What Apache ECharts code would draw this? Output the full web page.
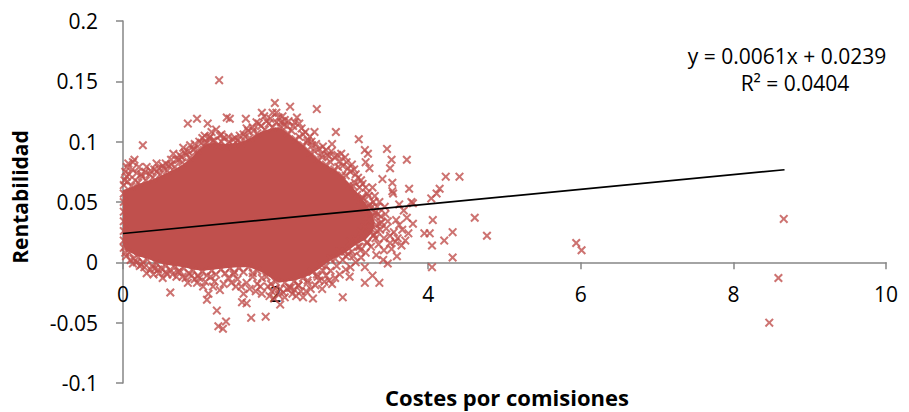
<!DOCTYPE html>
<html>
<head>
<meta charset="utf-8">
<script src="https://cdn.jsdelivr.net/npm/echarts@6/dist/echarts.min.js"></script>
<style>
  html, body { margin: 0; padding: 0; background: #fff; }
  #chart { width: 909px; height: 412px; }
</style>
</head>
<body>
<div id="chart"></div>
<script>
// Axis ranges and ticks
const xTicks = [0, 2, 4, 6, 8, 10];
const yTicks = [-0.1, -0.05, 0, 0.05, 0.1, 0.15, 0.2];

// Text
const xTitle = 'Costes por comisiones';
const yTitle = 'Rentabilidad';
const equationText = 'y = 0.0061x + 0.0239';
const r2Text = 'R² = 0.0404';

// Linear trend (from the stated equation), spanning the data's x range
const trendSlope = 0.0061;
const trendIntercept = 0.0239;
const trendXRange = [0, 8.67];

// Outline of the heavily overplotted region where marks merge into a solid mass
const denseOutline = [
  [0.00,0.014],[0.00,0.060],[0.10,0.062],[0.20,0.065],[0.30,0.067],[0.40,0.069],[0.50,0.072],
  [0.60,0.075],[0.70,0.078],[0.80,0.082],[0.90,0.087],[1.00,0.094],[1.10,0.098],[1.20,0.099],
  [1.30,0.098],[1.40,0.098],[1.50,0.099],[1.60,0.101],[1.70,0.104],[1.80,0.108],[1.90,0.110],
  [2.00,0.112],[2.08,0.111],[2.16,0.107],[2.26,0.102],[2.36,0.097],[2.46,0.091],[2.56,0.085],
  [2.66,0.081],[2.77,0.077],[2.87,0.072],[2.97,0.065],[3.08,0.057],[3.18,0.049],[3.26,0.041],
  [3.30,0.033],[3.27,0.025],[3.18,0.019],[3.06,0.015],[2.96,0.010],[2.86,0.006],[2.76,0.003],
  [2.66,-0.001],[2.56,-0.006],[2.46,-0.010],[2.36,-0.013],[2.24,-0.015],[2.12,-0.016],
  [2.04,-0.017],[1.94,-0.013],[1.84,-0.009],[1.74,-0.006],[1.64,-0.004],[1.50,-0.004],
  [1.34,-0.005],[1.20,-0.006],[1.04,-0.007],[0.92,-0.006],[0.80,-0.004],[0.68,-0.003],
  [0.56,-0.002],[0.44,0.000],[0.32,0.003],[0.20,0.005],[0.10,0.008],[0.03,0.011]
];

// Individual observations (costes, rentabilidad)
const points = [
  // upper edge, left part
  [0.01,0.064],[0.06,0.067],[0.11,0.063],[0.16,0.068],[0.20,0.066],[0.25,0.071],[0.30,0.068],
  [0.35,0.073],[0.39,0.070],[0.44,0.075],[0.49,0.073],[0.53,0.078],[0.58,0.076],[0.63,0.081],
  [0.68,0.079],[0.73,0.085],[0.78,0.083],[0.83,0.089],[0.88,0.087],[0.93,0.094],[0.98,0.093],
  [1.03,0.099],[1.08,0.098],[1.13,0.103],
  [0.02,0.068],[0.05,0.071],[0.03,0.075],[0.08,0.073],[0.07,0.082],[0.05,0.079],[0.12,0.077],
  [0.13,0.083],[0.15,0.085],[0.18,0.074],[0.21,0.079],[0.26,0.097],[0.24,0.073],[0.31,0.079],
  [0.29,0.075],[0.36,0.076],[0.41,0.077],[0.44,0.082],[0.47,0.078],[0.52,0.080],[0.56,0.082],
  [0.60,0.080],[0.63,0.085],[0.66,0.090],[0.70,0.085],[0.74,0.089],[0.77,0.087],[0.81,0.091],
  [0.79,0.095],[0.85,0.092],[0.88,0.097],[0.92,0.093],[0.94,0.098],[1.00,0.100],[1.04,0.103],
  [1.07,0.105],[1.10,0.099],[1.14,0.104],[1.20,0.101],
  // high values
  [0.85,0.115],[0.97,0.119],[1.11,0.115],[1.27,0.105],[1.26,0.151],[1.36,0.120],[1.40,0.119],
  [1.61,0.119],[1.82,0.124],[1.85,0.121],[1.99,0.132],[2.01,0.124],[2.19,0.129],[2.07,0.116],
  // upper edge, middle and right
  [1.18,0.101],[1.24,0.097],[1.29,0.100],[1.34,0.096],[1.39,0.100],[1.44,0.097],[1.50,0.101],
  [1.55,0.099],[1.60,0.104],[1.66,0.103],[1.71,0.109],[1.76,0.107],[1.81,0.113],[1.86,0.110],
  [1.91,0.115],[1.96,0.112],[2.01,0.116],[2.06,0.113],[2.11,0.114],[2.16,0.107],[2.21,0.109],
  [2.26,0.102],[2.31,0.104],[2.36,0.097],[2.41,0.099],[2.46,0.091],[2.51,0.092],[2.56,0.085],
  [2.61,0.087],[2.66,0.081],[2.72,0.083],[2.77,0.077],[2.82,0.079],[2.87,0.072],[2.92,0.072],
  [2.97,0.064],[3.02,0.063],[3.07,0.056],[3.12,0.052],[3.16,0.043],[3.19,0.038],[3.17,0.029],
  [3.12,0.025],[3.05,0.019],[2.98,0.017],
  [3.13,0.054],[3.22,0.047],[3.29,0.039],[3.32,0.031],[3.29,0.023],[3.20,0.017],[3.10,0.013],
  [3.00,0.009],[2.92,0.005],
  [1.32,0.103],[1.47,0.103],[1.53,0.105],[1.64,0.109],[1.70,0.112],[1.78,0.115],[1.88,0.117],
  [1.93,0.119],[2.04,0.120],[2.12,0.118],[2.15,0.113],[2.23,0.113],
  [1.16,0.108],[1.22,0.110],[1.29,0.106],[1.38,0.104],[1.44,0.102],[1.58,0.106],[1.62,0.111],
  [1.75,0.116],[1.96,0.124],[2.09,0.121],[2.17,0.117],[2.25,0.116],[2.34,0.111],[2.39,0.108],
  [2.47,0.100],[2.53,0.098],[2.62,0.096],[2.68,0.089],[2.73,0.092],[2.81,0.089],[2.86,0.090],
  [2.93,0.083],[2.98,0.075],[3.03,0.077],[3.08,0.070],[3.14,0.065],[3.18,0.062],[3.22,0.055],
  [3.28,0.050],[3.24,0.048],[3.33,0.046],[3.34,0.040],[3.39,0.033],[3.37,0.027],[3.31,0.020],
  [3.25,0.013],[3.18,0.008],[3.12,0.004],[3.05,0.000],[2.98,-0.004],[2.92,-0.006],
  [2.84,-0.010],[2.78,-0.013],[2.70,-0.015],[2.64,-0.016],
  [2.28,0.120],[2.31,0.115],[2.36,0.106],[2.54,0.127],[2.51,0.108],[2.45,0.104],[2.42,0.101],
  [2.48,0.097],[2.57,0.094],[2.60,0.090],[2.66,0.093],[2.74,0.098],[2.79,0.108],[2.70,0.088],
  [2.77,0.087],[2.84,0.084],[2.91,0.087],[2.88,0.080],[2.95,0.078],[3.00,0.081],[3.09,0.102],
  [3.17,0.093],[3.21,0.090],[3.18,0.083],[3.23,0.078],[3.05,0.073],[3.12,0.068],[3.10,0.062],
  [3.27,0.062],[3.20,0.057],[3.15,0.053],[3.40,0.069],[3.46,0.094],[3.52,0.085],[3.50,0.078],
  [3.53,0.066],[3.53,0.059],[3.72,0.085],[3.75,0.061],[3.78,0.050],[3.04,0.066],[3.26,0.038],
  // right tail
  [4.04,0.053],[4.15,0.061],[4.23,0.071],[4.41,0.071],[3.30,0.055],[3.36,0.050],[3.43,0.046],
  [3.54,0.057],[3.62,0.048],[3.68,0.043],[3.80,0.049],[3.72,0.037],[3.80,0.032],[4.11,0.057],
  [4.06,0.035],[4.32,0.025],[4.21,0.018],[4.05,0.014],[4.32,0.004],[4.05,-0.004],[3.95,0.024],
  [4.02,0.024],[3.66,0.027],[3.65,0.014],[3.50,0.016],[3.59,0.005],[3.32,0.006],[3.17,-0.004],
  [3.47,-0.001],[3.27,-0.011],[3.36,-0.017],[3.17,-0.017],[2.97,-0.012],[2.88,-0.029],
  [2.74,-0.018],[2.61,-0.022],[2.49,-0.030],[2.36,-0.029],[2.62,-0.007],[3.36,0.032],
  [3.25,0.028],[3.11,0.010],[3.02,0.005],[3.52,0.011],[3.41,0.002],
  [3.45,0.028],[3.55,0.025],[3.60,0.020],[3.50,0.022],[3.62,0.031],[3.57,0.017],[3.42,0.020],
  [3.47,0.034],[3.38,0.038],[3.30,0.041],[3.25,0.045],[3.22,0.035],[3.28,0.022],[3.35,0.015],
  [3.20,0.016],[3.42,0.010],[3.70,0.018],[3.74,0.024],[3.58,0.035],[3.44,0.040],[3.33,0.026],
  [3.08,0.013],[2.95,0.007],[2.88,0.002],[2.80,-0.003],[2.72,-0.007],[2.66,-0.011],
  [2.57,-0.015],[2.52,-0.019],
  [4.61,0.037],[4.77,0.022],[5.94,0.016],[6.01,0.010],[8.66,0.036],[8.59,-0.013],[8.47,-0.050],
  // lower edge
  [2.90,0.009],[2.84,0.009],[2.78,0.003],[2.72,0.003],[2.66,-0.003],[2.60,-0.002],[2.54,-0.010],
  [2.48,-0.008],[2.42,-0.015],[2.36,-0.013],[2.30,-0.019],[2.24,-0.016],[2.18,-0.021],
  [2.12,-0.017],[2.06,-0.022],[2.00,-0.016],[1.94,-0.018],[1.88,-0.012],[1.82,-0.013],
  [1.76,-0.007],[1.70,-0.009],[1.64,-0.004],[1.58,-0.008],[1.52,-0.005],[1.46,-0.008],
  [1.40,-0.005],[1.34,-0.009],[1.28,-0.006],[1.22,-0.010],[1.16,-0.007],[1.10,-0.011],
  [1.04,-0.008],[0.98,-0.011],[0.92,-0.007],[0.86,-0.009],[0.80,-0.005],[0.74,-0.007],
  [0.68,-0.004],[0.62,-0.006],[0.56,-0.003],[0.50,-0.005],[0.44,-0.001],[0.38,-0.003],
  [0.32,0.002],[0.26,0.000],[0.20,0.004],[0.14,0.003],[0.08,0.008],[0.03,0.008],[0.01,0.012],
  // left edge
  [0.01,0.018],[0.01,0.026],[0.01,0.034],[0.01,0.042],[0.01,0.050],[0.01,0.057],
  // low values
  [0.04,0.005],[0.13,-0.001],[0.18,0.000],[0.22,-0.003],[0.28,-0.004],[0.31,-0.009],[0.36,-0.006],
  [0.42,-0.005],[0.47,-0.009],[0.52,-0.013],[0.56,-0.008],[0.62,-0.025],[0.65,-0.010],
  [0.72,-0.008],[0.78,-0.012],[0.85,-0.017],[0.90,-0.011],[0.97,-0.017],[1.00,-0.013],
  [1.05,-0.020],[1.10,-0.031],[1.12,-0.026],[1.15,-0.012],[1.20,-0.016],[1.23,-0.040],
  [1.25,-0.053],[1.27,-0.023],[1.31,-0.055],[1.35,-0.049],[1.32,-0.018],[1.38,-0.013],
  [1.45,-0.010],[1.50,-0.014],[1.56,-0.033],[1.62,-0.034],[1.62,-0.017],[1.55,-0.020],
  [1.68,-0.046],[1.70,-0.012],[1.76,-0.018],[1.82,-0.026],[1.87,-0.045],[1.90,-0.020],
  [1.95,-0.024],[2.00,-0.022],[2.06,-0.035],[2.10,-0.025],[2.15,-0.022],[2.20,-0.021],
  [2.25,-0.023],[2.30,-0.019],[2.42,-0.017],[2.55,-0.012],
  [2.46,-0.022],[2.40,-0.024],[2.33,-0.024],[2.27,-0.028],[2.22,-0.026],[2.12,-0.029],
  [2.04,-0.027],[1.98,-0.030],[1.92,-0.028],[1.80,-0.020],[1.74,-0.024],[1.66,-0.022],
  [1.58,-0.026],[1.48,-0.020],[1.42,-0.017],[1.18,-0.020],[1.08,-0.016],[0.94,-0.014],
  [0.82,-0.013],[0.70,-0.012],[0.58,-0.010],[0.46,-0.006],[0.40,-0.010],[0.24,-0.002],
  [0.10,0.002]
];

// Styling
const markColor = '#C0504D';
const axisColor = '#868686';
const fontFamily = '"Open Sans", Lato, sans-serif';
// x-shaped marker outline in a 10x10 box
const crossSymbol = 'path://M0,1.6 L1.6,0 L5,3.4 L8.4,0 L10,1.6 L6.6,5 L10,8.4 L8.4,10 L5,6.6 L1.6,10 L0,8.4 L3.4,5 Z';

const chart = echarts.init(document.getElementById('chart'), null, { renderer: 'svg' });

const axisLineStyle = { color: axisColor, width: 1.5 };
const labelStyle = { color: '#000', fontSize: 21, fontFamily: fontFamily };

chart.setOption({
  animation: false,
  backgroundColor: '#fff',
  grid: { left: 123, right: 23, top: 21, bottom: 29, containLabel: false, outerBoundsMode: 'none' },
  xAxis: {
    type: 'value',
    min: xTicks[0], max: xTicks[xTicks.length - 1], interval: xTicks[1] - xTicks[0],
    splitLine: { show: false },
    axisLine: { show: true, onZero: false, lineStyle: axisLineStyle },
    axisTick: { show: true, inside: false, length: 7, lineStyle: axisLineStyle },
    axisLabel: Object.assign({ margin: 21, hideOverlap: false }, labelStyle)
  },
  yAxis: {
    type: 'value',
    min: yTicks[0], max: yTicks[yTicks.length - 1], interval: yTicks[1] - yTicks[0],
    splitLine: { show: false },
    axisLine: { show: true, onZero: false, lineStyle: axisLineStyle },
    axisTick: { show: true, inside: false, length: 7, lineStyle: axisLineStyle },
    axisLabel: Object.assign({ margin: 25 }, labelStyle)
  },
  series: [
    {
      type: 'custom',
      silent: true,
      z: 1,
      data: [[0, 0]],
      renderItem: function (params, api) {
        const pts = denseOutline.map(function (p) { return api.coord(p); });
        return { type: 'polygon', shape: { points: pts }, style: { fill: markColor } };
      }
    },
    {
      type: 'scatter',
      z: 2,
      symbol: crossSymbol,
      symbolSize: 9,
      itemStyle: { color: markColor },
      data: points
    },
    {
      type: 'line',
      z: 3,
      showSymbol: false,
      symbol: 'none',
      lineStyle: { color: '#000', width: 1.6 },
      data: trendXRange.map(function (x) { return [x, trendIntercept + trendSlope * x]; })
    }
  ],
  graphic: [
    { type: 'text', x: 787, y: 56, style: { text: equationText, fill: '#000', font: '21px ' + fontFamily, align: 'center', verticalAlign: 'middle' } },
    { type: 'text', x: 795, y: 83, style: { text: r2Text, fill: '#000', font: '21px ' + fontFamily, align: 'center', verticalAlign: 'middle' } },
    { type: 'text', x: 507, y: 397, style: { text: xTitle, fill: '#000', font: 'bold 22px ' + fontFamily, align: 'center', verticalAlign: 'middle' } },
    { type: 'text', x: 20, y: 197, rotation: Math.PI / 2, style: { text: yTitle, fill: '#000', font: 'bold 21px ' + fontFamily, align: 'center', verticalAlign: 'middle' } }
  ]
});

// The horizontal axis crosses the vertical one at y = 0
const zeroY = chart.convertToPixel({ yAxisIndex: 0 }, 0);
const bottomY = chart.convertToPixel({ yAxisIndex: 0 }, yTicks[0]);
chart.setOption({ xAxis: { offset: zeroY - bottomY } });
</script>
</body>
</html>
